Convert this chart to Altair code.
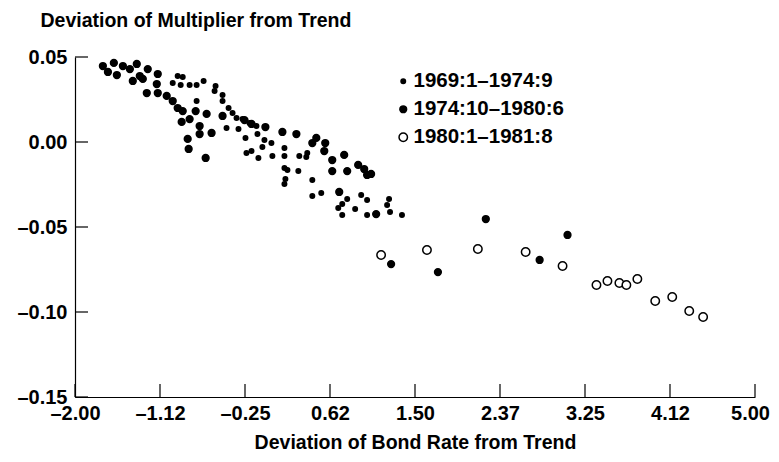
import altair as alt
import pandas as pd

# Series 1: 1969:1–1974:9 (small filled dots)
s1_x = [-0.943, -0.891, -0.994, -0.912, -0.820, -0.748, -0.676, -0.553, -0.563, -0.481,
        -0.481, -0.748, -0.419, -0.378, -0.337, -0.276, -0.204, -0.132, -0.440, -0.317,
        -0.245, -0.122, -0.050, 0.022, -0.071, -0.235, -0.183, -0.112, 0.032, 0.156,
        0.156, 0.187, 0.166, 0.156, 0.299, 0.309, 0.391, 0.381, 0.443, 0.443,
        0.535, 0.710, 0.751, 0.802, 0.751, 0.884, 0.946, 1.007, 1.007, 1.233,
        1.213, 1.243, 1.366, 0.156]
s1_y = [0.0388, 0.0382, 0.0347, 0.0335, 0.0335, 0.0335, 0.0359, 0.0329, 0.0300, 0.0276,
        0.0241, 0.0241, 0.0200, 0.0171, 0.0141, 0.0135, 0.0112, 0.0094, 0.0082, 0.0076,
        0.0024, 0.0047, 0.0012, -0.0006, -0.0029, -0.0065, -0.0053, -0.0094, -0.0082, -0.0082,
        -0.0153, -0.0165, -0.0218, -0.0247, -0.0171, -0.0082, -0.0065, -0.0088, -0.0224, -0.0318,
        -0.0300, -0.0388, -0.0429, -0.0335, -0.0365, -0.0394, -0.0312, -0.0341, -0.0429, -0.0335,
        -0.0371, -0.0412, -0.0429, -0.0035]

# Series 2: 1974:10–1980:6 (large filled dots)
s2_x = [-1.713, -1.600, -1.661, -1.569, -1.507, -1.435, -1.364, -1.405, -1.251, -1.302,
        -1.148, -1.158, -1.261, -1.148, -1.056, -0.994, -0.943, -0.891, -0.902, -0.820,
        -0.758, -0.645, -0.717, -0.717, -0.594, -0.840, -0.830, -0.655, -0.481, -0.255,
        -0.183, -0.040, 0.135, 0.279, 0.484, 0.443, 0.576, 0.566, 0.648, 0.771,
        0.648, 0.802, 0.915, 0.977, 1.007, 1.048, 0.720, 1.100, -1.333, 2.229,
        1.254, 1.736, 2.783, 3.070]
s2_y = [0.0447, 0.0465, 0.0412, 0.0394, 0.0447, 0.0429, 0.0459, 0.0359, 0.0429, 0.0371,
        0.0400, 0.0341, 0.0288, 0.0288, 0.0271, 0.0241, 0.0200, 0.0182, 0.0118, 0.0135,
        0.0182, 0.0165, 0.0094, 0.0047, 0.0053, 0.0018, -0.0041, -0.0094, 0.0153, 0.0129,
        0.0106, 0.0088, 0.0059, 0.0047, 0.0024, -0.0006, -0.0006, -0.0053, -0.0106, -0.0076,
        -0.0171, -0.0171, -0.0135, -0.0159, -0.0194, -0.0188, -0.0294, -0.0424, 0.0388, -0.0453,
        -0.0718, -0.0765, -0.0694, -0.0547]

# Series 3: 1980:1–1981:8 (open circles)
s3_x = [1.151, 1.623, 2.147, 2.639, 3.019, 3.368, 3.481, 3.604, 3.676, 3.789,
        3.973, 4.148, 4.323, 4.466]
s3_y = [-0.0665, -0.0635, -0.0629, -0.0647, -0.0729, -0.0841, -0.0818, -0.0829, -0.0841, -0.0806,
        -0.0935, -0.0912, -0.0994, -0.1029]

periods = ["1969:1\u20131974:9", "1974:10\u20131980:6", "1980:1\u20131981:8"]

x_ticks = [-2.0, -1.125, -0.25, 0.625, 1.5, 2.375, 3.25, 4.125, 5.0]
x_labels = ["\u20132.00", "\u20131.12", "\u20130.25", "0.62", "1.50", "2.37", "3.25", "4.12", "5.00"]
y_ticks = [0.05, 0.0, -0.05, -0.10, -0.15]
y_labels = ["0.05", "0.00", "\u20130.05", "\u20130.10", "\u20130.15"]

rows = []
for xs, ys, p in [(s1_x, s1_y, periods[0]), (s2_x, s2_y, periods[1]), (s3_x, s3_y, periods[2])]:
    for a, b in zip(xs, ys):
        rows.append({"x": a, "y": b, "period": p})
df = pd.DataFrame(rows)

FONT = "Liberation Sans"
W, H = 680, 340
xscale = alt.Scale(domain=[-2, 5], nice=False, zero=False)
yscale = alt.Scale(domain=[-0.15, 0.05], nice=False, zero=False)


def label_expr(vals, labs):
    return "[" + ",".join("'" + l + "'" for l in labs) + "][indexof([" + ",".join(repr(v) for v in vals) + "], datum.value)]"


xaxis = alt.Axis(values=x_ticks, labelExpr=label_expr(x_ticks, x_labels), ticks=False, grid=False,
                 domainColor="black", domainWidth=1.2, labelFont=FONT, labelFontSize=20,
                 labelFontWeight="bold", labelColor="black", labelPadding=6, labelFlush=False,
                 labelOverlap=False,
                 labelOffset={"condition": {"test": "datum.value >= 5", "value": -5}, "value": 0},
                 title="Deviation of Bond Rate from Trend", titleFont=FONT, titleFontSize=19.5,
                 titleFontWeight="bold", titleColor="black", titleX=W / 2, titleY=51,
                 titleAlign="center", titleBaseline="alphabetic")
yaxis = alt.Axis(values=y_ticks, labelExpr=label_expr(y_ticks, y_labels), ticks=False, grid=False,
                 domainColor="black", domainWidth=1.2, labelFont=FONT, labelFontSize=20,
                 labelFontWeight="bold", labelColor="black", labelPadding=8, labelFlush=False,
                 labelOverlap=False,
                 title="Deviation of Multiplier from Trend", titleFont=FONT, titleFontSize=19.5,
                 titleFontWeight="bold", titleColor="black", titleAngle=0, titleX=-35, titleY=-31,
                 titleAlign="left", titleBaseline="alphabetic")

legend = alt.Legend(title=None, orient="none", legendX=318, legendY=14, labelFont=FONT,
                    labelFontSize=20.5, labelFontWeight="bold", labelColor="black",
                    labelOffset=0, rowPadding=7, padding=0, symbolStrokeWidth=1.5,
                    symbolType="circle")

points = alt.Chart(df).mark_circle(strokeWidth=1.5, opacity=1).encode(
    x=alt.X("x:Q", scale=xscale, axis=xaxis),
    y=alt.Y("y:Q", scale=yscale, axis=yaxis),
    fill=alt.Fill("period:N", scale=alt.Scale(domain=periods, range=["black", "black", "white"]), legend=legend),
    stroke=alt.Stroke("period:N", scale=alt.Scale(domain=periods, range=["black", "black", "black"]), legend=legend),
    size=alt.Size("period:N", scale=alt.Scale(domain=periods, range=[20, 71, 57]), legend=legend),
)

xt = alt.Chart(pd.DataFrame({"x": x_ticks})).mark_rule(color="black", strokeWidth=1.2).encode(
    x=alt.X("x:Q", scale=xscale, axis=xaxis),
    y=alt.value(H), y2=alt.value(H - 13),
)
yt = alt.Chart(pd.DataFrame({"y": y_ticks})).mark_rule(color="black", strokeWidth=1.2).encode(
    y=alt.Y("y:Q", scale=yscale, axis=yaxis),
    x=alt.value(0), x2=alt.value(13),
)

chart = alt.layer(points, xt, yt).properties(
    width=W, height=H,
    autosize=alt.AutoSizeParams(type="none"),
    padding={"left": 67, "top": 49, "right": 16, "bottom": 55},
).configure_view(strokeWidth=0)

chart.save("out.html", embed_options={"renderer": "svg", "actions": False})
